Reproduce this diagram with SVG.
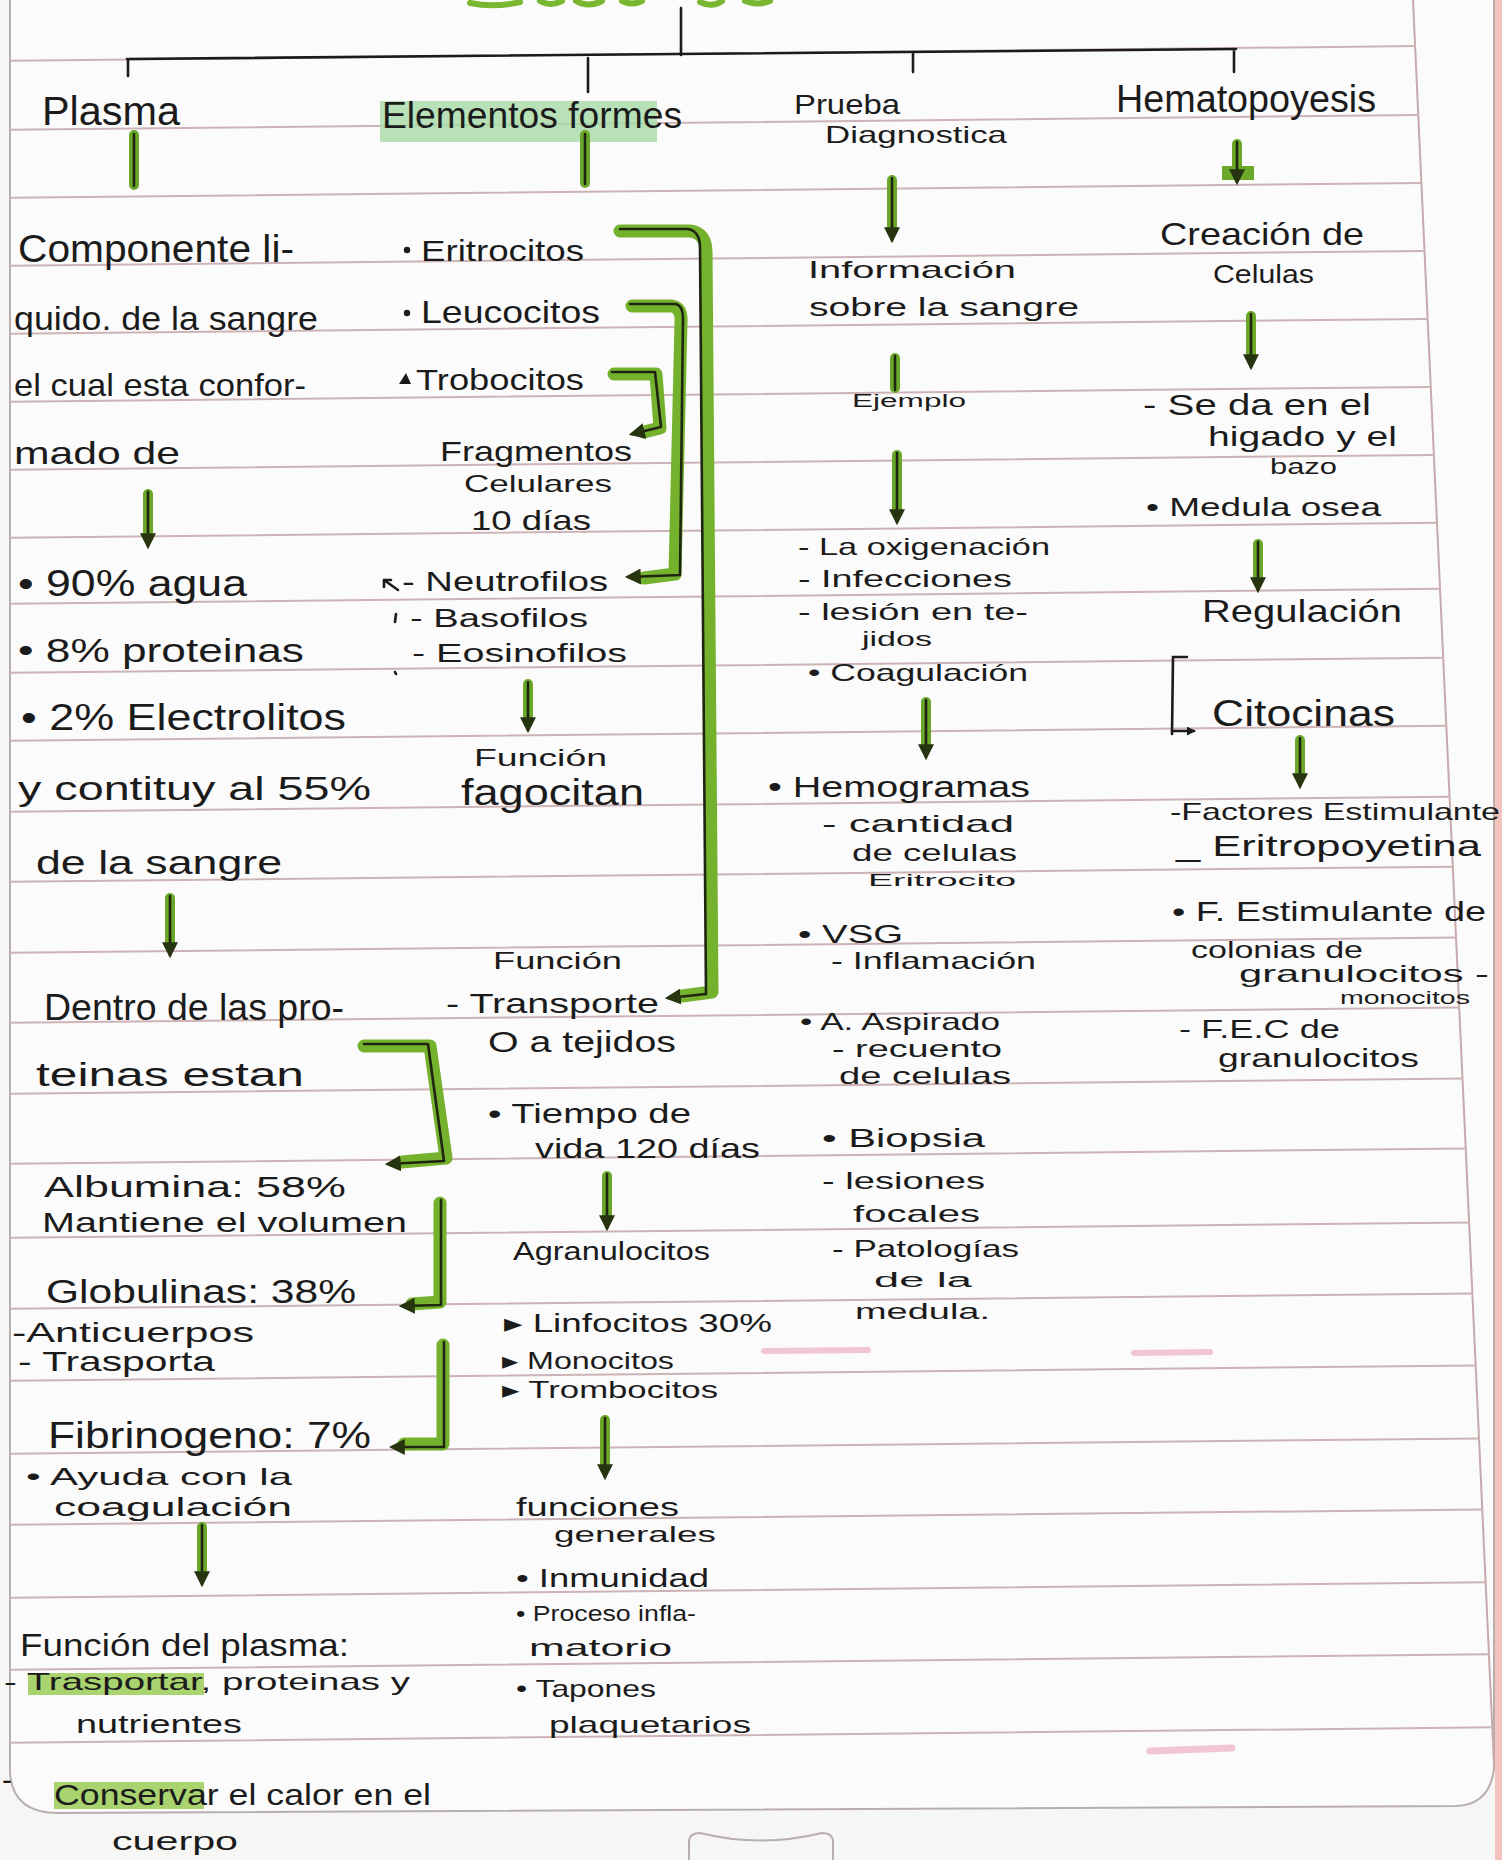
<svg xmlns="http://www.w3.org/2000/svg" width="1502" height="1860" viewBox="0 0 1502 1860">
<defs>
<style>
.t{font-family:"Liberation Sans",Arial,sans-serif;fill:#1b1b1b}
.rule{stroke:#cdb3b5;stroke-width:2;fill:none}
.gm{stroke:#6ba82a;stroke-width:10;stroke-linecap:round;stroke-linejoin:round;fill:none}
.gw{stroke:#74b22e;stroke-width:13;stroke-linecap:round;stroke-linejoin:round;fill:none}
.bk{stroke:#1e2611;stroke-width:2.6;stroke-linecap:round;stroke-linejoin:round;fill:none}
.pen{stroke:#1b1b1b;stroke-width:2.6;stroke-linecap:round;fill:none}
.hl{fill:#8cc63f;opacity:.75}
.pk{stroke:#e89ab0;stroke-linecap:round;fill:none;opacity:.55}
</style>
<marker id="ah" viewBox="0 0 10 10" refX="8" refY="5" markerWidth="16" markerHeight="16" markerUnits="userSpaceOnUse" orient="auto">
<path d="M0,0 L10,5 L0,10 z" fill="#263510"/>
</marker>
<marker id="ahs" viewBox="0 0 10 10" refX="8" refY="5" markerWidth="9" markerHeight="9" markerUnits="userSpaceOnUse" orient="auto">
<path d="M0,0 L10,5 L0,10 z" fill="#1b1b1b"/>
</marker>
</defs>

<g id="paper">
<rect x="0" y="0" width="1502" height="1860" fill="#f6f6f5"/>
<path d="M10,0 L1494,0 L1494,1768 Q1490,1805 1456,1806 L56,1813 Q12,1812 10,1772 Z" fill="#fcfbfb"/>
<path d="M10,0 L10,1772 Q12,1812 56,1813 L1456,1806 Q1490,1805 1494,1768 L1494,0" fill="none" stroke="#b9aeae" stroke-width="2"/>
<path d="M1413,0 L1494,1765" stroke="#c7aaac" stroke-width="2" fill="none"/>
<rect x="1495" y="0" width="7" height="1860" fill="#f3c3bc"/>
<path d="M689,1860 L689,1842 Q689,1833 700,1833 Q760,1848 822,1833 Q833,1833 833,1842 L833,1860" fill="none" stroke="#b9aeae" stroke-width="2"/>
<path d="M470,3 Q495,8 520,2 M540,1 Q550,7 562,1 M576,1 Q588,8 602,1 M622,1 Q632,6 642,1 M700,2 Q712,8 722,1 M745,1 Q758,6 770,1" stroke="#7ab730" stroke-width="6" stroke-linecap="round" fill="none"/>
<path class="pk" stroke-width="7" d="M1150,1751 L1232,1748"/>
<path class="pk" stroke-width="6" d="M764,1351 L868,1350 M1134,1353 L1210,1352"/>
</g>

<g id="rules">
<path class="rule" d="M10,60.8 L1416,46.1 M10,129.8 L1419,115 M10,197.8 L1422,183 M10,265.8 L1425,251 M10,333.8 L1428,318.9 M10,401.8 L1431,386.9 M10,469.8 L1434,454.9 M10,537.8 L1438,522.8 M10,603.8 L1441,588.8 M10,672.8 L1444,657.8 M10,740.8 L1447,725.7 M10,811.8 L1450,796.7 M10,881.8 L1454,866.7 M10,952.8 L1457,937.6 M10,1022.8 L1460,1007.6 M10,1093.8 L1463,1078.6 M10,1163.8 L1467,1148.5 M10,1237.8 L1470,1222.5 M10,1308.8 L1473,1293.5 M10,1380.8 L1477,1365.4 M10,1453.8 L1480,1438.4 M10,1524.8 L1483,1509.4 M10,1597.8 L1487,1582.3 M10,1669.8 L1490,1654.3 M10,1742.8 L1493,1727.3"/>
</g>

<g id="highlights">
<rect x="380" y="101" width="277" height="41" fill="#a6dba8" opacity=".8"/>
<rect class="hl" x="28" y="1673" width="176" height="22"/>
<rect class="hl" x="54" y="1782" width="150" height="27"/>
</g>

<g id="connectors">
<path class="pen" d="M127,59 L1236,49 M681,8 L681,55 M128,59 L128,76 M588,58 L588,92 M913,53 L913,72 M1234,50 L1234,72"/>
<path class="gm" d="M134,135 V185 M585,135 V183 M895,358 V388"/>
<path class="bk" d="M134,134 V186 M585,134 V184 M895,356 V390"/>
<path class="gm" d="M148,494 V536 M170,898 V945 M202,1527 V1574 M528,684 V722 M607,1176 V1218 M605,1420 V1467 M892,180 V230 M897,455 V512 M926,702 V747 M1237,144 V174 M1251,316 V357 M1258,544 V580 M1300,740 V776"/>
<rect x="1222" y="166" width="32" height="14" fill="#6ba82a"/>
<path class="bk" marker-end="url(#ah)" d="M148,492 V546"/>
<path class="bk" marker-end="url(#ah)" d="M170,896 V955"/>
<path class="bk" marker-end="url(#ah)" d="M202,1525 V1584"/>
<path class="bk" marker-end="url(#ah)" d="M528,682 V730"/>
<path class="bk" marker-end="url(#ah)" d="M607,1174 V1228"/>
<path class="bk" marker-end="url(#ah)" d="M605,1418 V1477"/>
<path class="bk" marker-end="url(#ah)" d="M892,178 V240"/>
<path class="bk" marker-end="url(#ah)" d="M897,453 V522"/>
<path class="bk" marker-end="url(#ah)" d="M926,700 V757"/>
<path class="bk" marker-end="url(#ah)" d="M1237,142 V182"/>
<path class="bk" marker-end="url(#ah)" d="M1251,314 V367"/>
<path class="bk" marker-end="url(#ah)" d="M1258,542 V590"/>
<path class="bk" marker-end="url(#ah)" d="M1300,738 V786"/>
<path class="gw" d="M620,231 L690,231 Q706,233 706,252 L712,992 L682,996"/>
<path class="bk" marker-end="url(#ah)" d="M620,229 L688,229 Q700,231 700,248 L706,994 L668,998"/>
<path class="gw" d="M632,306 L672,306 Q682,308 681,322 L675,574 L644,578"/>
<path class="bk" marker-end="url(#ah)" d="M630,304 L676,304 Q683,306 683,318 L680,575 L628,577"/>
<path class="gw" d="M614,374 L656,374 L660,428 L644,432"/>
<path class="bk" marker-end="url(#ah)" d="M612,372 L655,372 L661,427 L632,434"/>
<path class="gw" d="M364,1046 L430,1046 L446,1158 L402,1162"/>
<path class="bk" marker-end="url(#ah)" d="M364,1044 L428,1044 L444,1161 L388,1164"/>
<path class="gw" d="M440,1203 L440,1302 L412,1304"/>
<path class="bk" marker-end="url(#ah)" d="M441,1200 L441,1305 L402,1306"/>
<path class="gw" d="M443,1345 L443,1444 L404,1444"/>
<path class="bk" marker-end="url(#ah)" d="M444,1342 L444,1447 L392,1447"/>
<path class="pen" d="M1187,657 L1173,657 L1172,734"/>
<path class="pen" marker-end="url(#ahs)" d="M1172,731 L1194,731"/>
<path class="pen" d="M384,580 L398,590 M384,580 L384,587 M384,580 L391,580 M396,614 L395,622 M395,672 L396,674"/>
</g>

<g id="plasma">
<text class="t" x="42" y="125" font-size="40" textLength="138" lengthAdjust="spacingAndGlyphs">Plasma</text>
</g>
<g id="plasma-def">
<text class="t" x="18" y="262" font-size="38" textLength="276" lengthAdjust="spacingAndGlyphs">Componente li-</text>
<text class="t" x="14" y="330" font-size="34" textLength="304" lengthAdjust="spacingAndGlyphs">quido. de la sangre</text>
<text class="t" x="14" y="396" font-size="32" textLength="292" lengthAdjust="spacingAndGlyphs">el cual esta confor-</text>
<text class="t" x="14" y="464" font-size="32" textLength="166" lengthAdjust="spacingAndGlyphs">mado de</text>
</g>
<g id="plasma-comp">
<text class="t" x="18" y="596" font-size="36" textLength="229" lengthAdjust="spacingAndGlyphs">• 90% agua</text>
<text class="t" x="18" y="662" font-size="34" textLength="286" lengthAdjust="spacingAndGlyphs">• 8% proteinas</text>
<text class="t" x="21" y="730" font-size="36" textLength="325" lengthAdjust="spacingAndGlyphs">• 2% Electrolitos</text>
<text class="t" x="18" y="800" font-size="34" textLength="353" lengthAdjust="spacingAndGlyphs">y contituy al 55%</text>
<text class="t" x="36" y="874" font-size="34" textLength="246" lengthAdjust="spacingAndGlyphs">de la sangre</text>
</g>
<g id="proteinas">
<text class="t" x="44" y="1020" font-size="36" textLength="300" lengthAdjust="spacingAndGlyphs">Dentro de las pro-</text>
<text class="t" x="36" y="1086" font-size="34" textLength="268" lengthAdjust="spacingAndGlyphs">teinas estan</text>
</g>
<g id="albumina">
<text class="t" x="44" y="1197" font-size="30" textLength="302" lengthAdjust="spacingAndGlyphs">Albumina: 58%</text>
<text class="t" x="42" y="1232" font-size="28" textLength="365" lengthAdjust="spacingAndGlyphs">Mantiene el volumen</text>
</g>
<g id="globulinas">
<text class="t" x="46" y="1303" font-size="34" textLength="310" lengthAdjust="spacingAndGlyphs">Globulinas: 38%</text>
<text class="t" x="12" y="1342" font-size="28" textLength="242" lengthAdjust="spacingAndGlyphs">-Anticuerpos</text>
<text class="t" x="18" y="1371" font-size="28" textLength="197" lengthAdjust="spacingAndGlyphs">- Trasporta</text>
</g>
<g id="fibrinogeno">
<text class="t" x="48" y="1448" font-size="36" textLength="323" lengthAdjust="spacingAndGlyphs">Fibrinogeno: 7%</text>
<text class="t" x="26" y="1485" font-size="24" textLength="266" lengthAdjust="spacingAndGlyphs">• Ayuda con la</text>
<text class="t" x="54" y="1516" font-size="26" textLength="238" lengthAdjust="spacingAndGlyphs">coagulación</text>
</g>
<g id="funcion-plasma">
<text class="t" x="20" y="1656" font-size="32" textLength="329" lengthAdjust="spacingAndGlyphs">Función del plasma:</text>
<text class="t" x="4" y="1690" font-size="24" textLength="406" lengthAdjust="spacingAndGlyphs">- Trasportar, proteinas y</text>
<text class="t" x="76" y="1733" font-size="26" textLength="166" lengthAdjust="spacingAndGlyphs">nutrientes</text>
<text class="t" x="2" y="1790" font-size="30">-</text>
<text class="t" x="54" y="1805" font-size="30" textLength="377" lengthAdjust="spacingAndGlyphs">Conservar el calor en el</text>
<text class="t" x="112" y="1850" font-size="26" textLength="126" lengthAdjust="spacingAndGlyphs">cuerpo</text>
</g>

<g id="elementos">
<text class="t" x="382" y="128" font-size="36" textLength="300" lengthAdjust="spacingAndGlyphs">Elementos formes</text>
</g>
<g id="celulas-sangre">
<circle cx="407" cy="250" r="3.2" fill="#1b1b1b"/>
<text class="t" x="421" y="261" font-size="30" textLength="163" lengthAdjust="spacingAndGlyphs">Eritrocitos</text>
<circle cx="407" cy="313" r="3.2" fill="#1b1b1b"/>
<text class="t" x="421" y="323" font-size="32" textLength="179" lengthAdjust="spacingAndGlyphs">Leucocitos</text>
<path d="M399,384 L406,373 L411,384 Z" fill="#1b1b1b"/>
<text class="t" x="416" y="390" font-size="30" textLength="168" lengthAdjust="spacingAndGlyphs">Trobocitos</text>
</g>
<g id="trombocitos-info">
<text class="t" x="440" y="461" font-size="28" textLength="192" lengthAdjust="spacingAndGlyphs">Fragmentos</text>
<text class="t" x="464" y="492" font-size="24" textLength="148" lengthAdjust="spacingAndGlyphs">Celulares</text>
<text class="t" x="471" y="530" font-size="28" textLength="120" lengthAdjust="spacingAndGlyphs">10 días</text>
</g>
<g id="granulocitos">
<text class="t" x="402" y="591" font-size="28" textLength="206" lengthAdjust="spacingAndGlyphs">- Neutrofilos</text>
<text class="t" x="410" y="627" font-size="26" textLength="178" lengthAdjust="spacingAndGlyphs">- Basofilos</text>
<text class="t" x="412" y="662" font-size="26" textLength="215" lengthAdjust="spacingAndGlyphs">- Eosinofilos</text>
</g>
<g id="funcion-fagocitan">
<text class="t" x="474" y="766" font-size="24" textLength="133" lengthAdjust="spacingAndGlyphs">Función</text>
<text class="t" x="461" y="805" font-size="36" textLength="183" lengthAdjust="spacingAndGlyphs">fagocitan</text>
</g>
<g id="funcion-transporte">
<text class="t" x="493" y="969" font-size="24" textLength="129" lengthAdjust="spacingAndGlyphs">Función</text>
<text class="t" x="446" y="1013" font-size="28" textLength="213" lengthAdjust="spacingAndGlyphs">- Transporte</text>
<text class="t" x="488" y="1052" font-size="30" textLength="188" lengthAdjust="spacingAndGlyphs">O a tejidos</text>
<text class="t" x="488" y="1123" font-size="28" textLength="203" lengthAdjust="spacingAndGlyphs">• Tiempo de</text>
<text class="t" x="535" y="1158" font-size="28" textLength="225" lengthAdjust="spacingAndGlyphs">vida 120 días</text>
</g>
<g id="agranulocitos">
<text class="t" x="513" y="1260" font-size="26" textLength="197" lengthAdjust="spacingAndGlyphs">Agranulocitos</text>
<text class="t" x="504" y="1332" font-size="26" textLength="268" lengthAdjust="spacingAndGlyphs">▸ Linfocitos 30%</text>
<text class="t" x="502" y="1369" font-size="24" textLength="172" lengthAdjust="spacingAndGlyphs">▸ Monocitos</text>
<text class="t" x="502" y="1398" font-size="24" textLength="216" lengthAdjust="spacingAndGlyphs">▸ Trombocitos</text>
</g>
<g id="funciones-generales">
<text class="t" x="516" y="1516" font-size="25" textLength="163" lengthAdjust="spacingAndGlyphs">funciones</text>
<text class="t" x="554" y="1542" font-size="22" textLength="162" lengthAdjust="spacingAndGlyphs">generales</text>
<text class="t" x="516" y="1587" font-size="26" textLength="193" lengthAdjust="spacingAndGlyphs">• Inmunidad</text>
<text class="t" x="516" y="1621" font-size="22" textLength="180" lengthAdjust="spacingAndGlyphs">• Proceso infla-</text>
<text class="t" x="529" y="1656" font-size="24" textLength="143" lengthAdjust="spacingAndGlyphs">matorio</text>
<text class="t" x="516" y="1697" font-size="24" textLength="140" lengthAdjust="spacingAndGlyphs">• Tapones</text>
<text class="t" x="549" y="1733" font-size="24" textLength="202" lengthAdjust="spacingAndGlyphs">plaquetarios</text>
</g>

<g id="prueba">
<text class="t" x="794" y="114" font-size="28" textLength="106" lengthAdjust="spacingAndGlyphs">Prueba</text>
<text class="t" x="825" y="143" font-size="24" textLength="182" lengthAdjust="spacingAndGlyphs">Diagnostica</text>
</g>
<g id="informacion">
<text class="t" x="808" y="278" font-size="24" textLength="208" lengthAdjust="spacingAndGlyphs">Información</text>
<text class="t" x="809" y="316" font-size="26" textLength="270" lengthAdjust="spacingAndGlyphs">sobre la sangre</text>
</g>
<g id="ejemplo">
<text class="t" x="852" y="407" font-size="18" textLength="114" lengthAdjust="spacingAndGlyphs">Ejemplo</text>
</g>
<g id="ejemplos-lista">
<text class="t" x="798" y="555" font-size="24" textLength="252" lengthAdjust="spacingAndGlyphs">- La oxigenación</text>
<text class="t" x="798" y="587" font-size="24" textLength="214" lengthAdjust="spacingAndGlyphs">- Infecciones</text>
<text class="t" x="798" y="620" font-size="24" textLength="230" lengthAdjust="spacingAndGlyphs">- lesión en te-</text>
<text class="t" x="862" y="646" font-size="20" textLength="70" lengthAdjust="spacingAndGlyphs">jidos</text>
<text class="t" x="808" y="681" font-size="24" textLength="220" lengthAdjust="spacingAndGlyphs">• Coagulación</text>
</g>
<g id="pruebas-lista">
<text class="t" x="768" y="797" font-size="30" textLength="262" lengthAdjust="spacingAndGlyphs">• Hemogramas</text>
<text class="t" x="822" y="832" font-size="24" textLength="192" lengthAdjust="spacingAndGlyphs">- cantidad</text>
<text class="t" x="852" y="861" font-size="24" textLength="165" lengthAdjust="spacingAndGlyphs">de celulas</text>
<text class="t" x="868" y="886" font-size="16" textLength="148" lengthAdjust="spacingAndGlyphs">Eritrocito</text>
<text class="t" x="798" y="943" font-size="26" textLength="105" lengthAdjust="spacingAndGlyphs">• VSG</text>
<text class="t" x="831" y="969" font-size="24" textLength="205" lengthAdjust="spacingAndGlyphs">- Inflamación</text>
<text class="t" x="800" y="1030" font-size="24" textLength="200" lengthAdjust="spacingAndGlyphs">• A. Aspirado</text>
<text class="t" x="832" y="1057" font-size="24" textLength="170" lengthAdjust="spacingAndGlyphs">- recuento</text>
<text class="t" x="839" y="1084" font-size="24" textLength="172" lengthAdjust="spacingAndGlyphs">de celulas</text>
<text class="t" x="822" y="1147" font-size="26" textLength="163" lengthAdjust="spacingAndGlyphs">• Biopsia</text>
<text class="t" x="822" y="1189" font-size="24" textLength="163" lengthAdjust="spacingAndGlyphs">- lesiones</text>
<text class="t" x="853" y="1222" font-size="24" textLength="127" lengthAdjust="spacingAndGlyphs">focales</text>
<text class="t" x="832" y="1257" font-size="24" textLength="187" lengthAdjust="spacingAndGlyphs">- Patologías</text>
<text class="t" x="874" y="1287" font-size="20" textLength="98" lengthAdjust="spacingAndGlyphs">de la</text>
<text class="t" x="855" y="1319" font-size="22" textLength="135" lengthAdjust="spacingAndGlyphs">medula.</text>
</g>

<g id="hematopoyesis">
<text class="t" x="1116" y="112" font-size="38" textLength="260" lengthAdjust="spacingAndGlyphs">Hematopoyesis</text>
</g>
<g id="creacion">
<text class="t" x="1160" y="245" font-size="32" textLength="204" lengthAdjust="spacingAndGlyphs">Creación de</text>
<text class="t" x="1213" y="283" font-size="26" textLength="101" lengthAdjust="spacingAndGlyphs">Celulas</text>
</g>
<g id="lugar">
<text class="t" x="1143" y="415" font-size="30" textLength="228" lengthAdjust="spacingAndGlyphs">- Se da en el</text>
<text class="t" x="1208" y="446" font-size="28" textLength="189" lengthAdjust="spacingAndGlyphs">higado y el</text>
<text class="t" x="1270" y="474" font-size="22" textLength="67" lengthAdjust="spacingAndGlyphs">bazo</text>
<text class="t" x="1146" y="516" font-size="26" textLength="235" lengthAdjust="spacingAndGlyphs">• Medula osea</text>
</g>
<g id="regulacion">
<text class="t" x="1202" y="622" font-size="32" textLength="200" lengthAdjust="spacingAndGlyphs">Regulación</text>
</g>
<g id="citocinas">
<text class="t" x="1212" y="726" font-size="36" textLength="183" lengthAdjust="spacingAndGlyphs">Citocinas</text>
</g>
<g id="factores">
<text class="t" x="1170" y="820" font-size="24" textLength="330" lengthAdjust="spacingAndGlyphs">-Factores Estimulante</text>
<text class="t" x="1176" y="856" font-size="30" textLength="305" lengthAdjust="spacingAndGlyphs">_ Eritropoyetina</text>
<text class="t" x="1172" y="921" font-size="28" textLength="314" lengthAdjust="spacingAndGlyphs">• F. Estimulante de</text>
<text class="t" x="1191" y="958" font-size="24" textLength="172" lengthAdjust="spacingAndGlyphs">colonias de</text>
<text class="t" x="1239" y="982" font-size="24" textLength="250" lengthAdjust="spacingAndGlyphs">granulocitos -</text>
<text class="t" x="1340" y="1004" font-size="18" textLength="130" lengthAdjust="spacingAndGlyphs">monocitos</text>
<text class="t" x="1179" y="1038" font-size="26" textLength="161" lengthAdjust="spacingAndGlyphs">- F.E.C de</text>
<text class="t" x="1218" y="1067" font-size="26" textLength="201" lengthAdjust="spacingAndGlyphs">granulocitos</text>
</g>
</svg>
